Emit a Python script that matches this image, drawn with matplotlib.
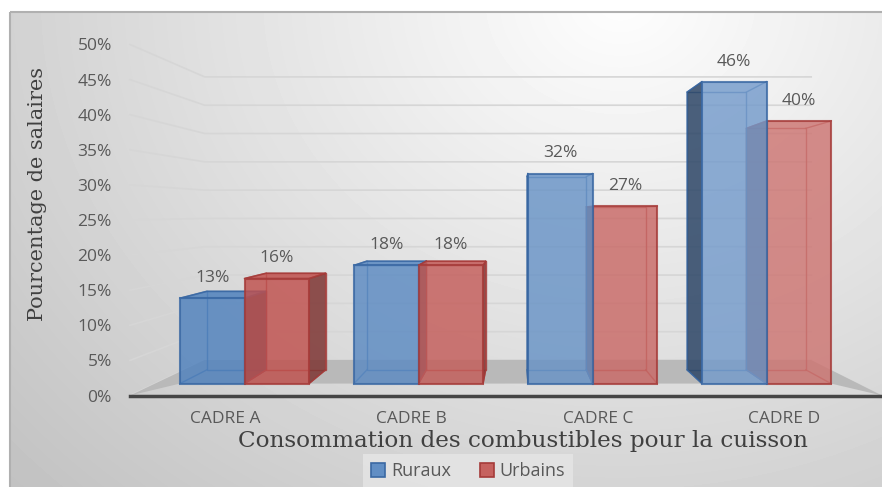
import numpy as np
import matplotlib
matplotlib.use("Agg")
import matplotlib.pyplot as plt
from matplotlib.patches import Polygon, Patch, Rectangle
from matplotlib.colors import to_rgb

# ---- data -------------------------------------------------------------
categories = ["CADRE A", "CADRE B", "CADRE C", "CADRE D"]
series_names = ["Ruraux", "Urbains"]
ruraux = [13, 18, 32, 46]
urbains = [16, 18, 27, 40]
y_ticks = [0, 5, 10, 15, 20, 25, 30, 35, 40, 45, 50]
y_tick_labels = [f"{t}%" for t in y_ticks]

# ---- styling ----------------------------------------------------------
W, H = 882, 487
plt.rcParams["font.family"] = ["Open Sans", "DejaVu Sans"]
BLUE, BLUE_EDGE, BLUE_SIDE = "#4f81bd", "#3a68a3", "#2c4566"
RED, RED_EDGE, RED_SIDE = "#c0504d", "#a53b39", "#7e3533"
GRID = "#d6d6d6"
FLOOR = "#b9b9b9"
TXT = "#595959"
SERIF = ["DejaVu Serif", "Liberation Serif"]

fig = plt.figure(figsize=(W / 100, H / 100), dpi=100)

# background panel with soft radial shading
bg = fig.add_axes([0, 0, 1, 1], zorder=0)
bg.set_xlim(0, W)
bg.set_ylim(H, 0)
bg.axis("off")
yy, xx = np.mgrid[0:H, 0:W]
r = np.sqrt(((xx - 620) / 640.0) ** 2 + (yy / 540.0) ** 2)
shade = np.clip(0.995 - 0.18 * r, 0, 1)
bg.imshow(shade[12:, 10:], cmap="gray", vmin=0, vmax=1,
          extent=(10, W, H, 12), aspect="auto", interpolation="bilinear")
bg.add_patch(Rectangle((10, 12), W, H, fill=False, edgecolor="#b0b0b0", lw=1.5))

# main axes: the front plane of the 3-D box
ax = fig.add_axes([130 / W, (H - 395.5) / H, (W - 130) / W, 351 / H], zorder=1)
ax.set_facecolor("none")
XL, XR = -0.514, 3.527
ax.set_xlim(XL, XR)
ax.set_ylim(0, 50)

# one-point perspective: depth s scales points toward the vanishing point
VP = (1.56, 26.14)
S_FRONT, S_BACK, S_WALL = 0.935, 0.86, 0.8065


def proj(x, v, s):
    return (VP[0] + s * (x - VP[0]), VP[1] + s * (v - VP[1]))


def lighten(c, f):
    c = np.array(to_rgb(c))
    return tuple(c + (1 - c) * f)


# gridlines on side wall and back wall
for t in y_ticks:
    a = proj(XL, t, 1.0)
    b = proj(XL, t, S_WALL)
    c = proj(XR, t, S_WALL)
    ax.plot([a[0], b[0], c[0]], [a[1], b[1], c[1]], color=GRID, lw=1.2,
            zorder=1, clip_on=False)

# bar extents along x
w = 0.371
bars = []
for i, cat in enumerate(categories):
    bars.append((i - w, i, ruraux[i], BLUE, BLUE_EDGE, BLUE_SIDE, i))
    bars.append((i, i + w, urbains[i], RED, RED_EDGE, RED_SIDE, i))

# floor
left_x = min(b[0] for b in bars)
right_x = max(b[1] for b in bars)
floor = [proj(XL, 0, S_WALL), proj(XR, 0, S_WALL), proj(XR, 0, 1.0),
         proj(right_x, 0, S_FRONT), proj(left_x, 0, S_FRONT), proj(XL, 0, 1.0)]
ax.add_patch(Polygon(floor, closed=True, facecolor=FLOOR, edgecolor="none",
                     zorder=2, clip_on=False))

# bars, painted from the outside toward the vanishing point
order = sorted(bars, key=lambda b: -abs((b[0] + b[1]) / 2 - VP[0]))
for x0, x1, v, col, edge, side, idx in order:
    face = lighten(col, 0.07 * idx)
    back = [proj(x0, 0, S_BACK), proj(x1, 0, S_BACK),
            proj(x1, v, S_BACK), proj(x0, v, S_BACK)]
    front = [proj(x0, 0, S_FRONT), proj(x1, 0, S_FRONT),
             proj(x1, v, S_FRONT), proj(x0, v, S_FRONT)]
    ax.add_patch(Polygon(back, closed=True, facecolor="none", edgecolor=edge,
                         lw=1.0, alpha=0.8, zorder=3, clip_on=False))
    for k in range(4):
        ax.plot([front[k][0], back[k][0]], [front[k][1], back[k][1]],
                color=edge, lw=1.0, alpha=0.8, zorder=3, clip_on=False)
    if x1 < VP[0]:
        sx = x1
    elif x0 > VP[0]:
        sx = x0
    else:
        sx = None
    if sx is not None:
        sface = [proj(sx, 0, S_FRONT), proj(sx, 0, S_BACK),
                 proj(sx, v, S_BACK), proj(sx, v, S_FRONT)]
        ax.add_patch(Polygon(sface, closed=True, facecolor=side, alpha=0.85,
                             edgecolor=edge, lw=1.0, zorder=3, clip_on=False))
    if v < VP[1]:
        top = [proj(x0, v, S_FRONT), proj(x1, v, S_FRONT),
               proj(x1, v, S_BACK), proj(x0, v, S_BACK)]
        ax.add_patch(Polygon(top, closed=True, facecolor=face, alpha=0.85,
                             edgecolor=edge, lw=1.2, zorder=3, clip_on=False))
    ax.add_patch(Polygon(front, closed=True, facecolor=face, alpha=0.82,
                         edgecolor=edge, lw=1.5, zorder=4, clip_on=False))
    lx, ly = proj((x0 + x1) / 2, v, S_FRONT)
    ax.annotate(f"{v}%", xy=(lx, ly), xytext=(0, 14.5), textcoords="offset points",
                ha="center", va="center", fontsize=12.5, color=TXT, zorder=6)

# axes decoration
for s in ("top", "left", "right"):
    ax.spines[s].set_visible(False)
ax.spines["bottom"].set_color("#454545")
ax.spines["bottom"].set_linewidth(2.5)
ax.spines["bottom"].set_zorder(5)
ax.set_xticks(range(len(categories)), categories)
ax.set_yticks(y_ticks, y_tick_labels)
ax.tick_params(axis="x", length=0, pad=11, labelsize=12.5, labelcolor=TXT)
ax.tick_params(axis="y", length=0, pad=13, labelsize=12.5, labelcolor=TXT)

fig.text(38 / W, 1 - 194 / H, "Pourcentage de salaires", rotation=90,
         ha="center", va="center", fontsize=15, color="#404040", family=SERIF)
fig.text(523 / W, 1 - 441 / H, "Consommation des combustibles pour la cuisson",
         ha="center", va="center", fontsize=16.7, color="#404040", family=SERIF)

handles = [Patch(facecolor=lighten(BLUE, 0.1), edgecolor=BLUE_EDGE, lw=1.2),
           Patch(facecolor=lighten(RED, 0.1), edgecolor=RED_EDGE, lw=1.2)]
leg = fig.legend(handles, series_names, loc="upper center",
                 bbox_to_anchor=(468 / W, 1 - 454 / H), ncol=2, frameon=True,
                 fancybox=False, facecolor="#e6e6e6", edgecolor="none",
                 framealpha=0.8, fontsize=13, handlelength=0.8, handleheight=0.8,
                 handletextpad=0.3, columnspacing=1.6, borderpad=0.45,
                 borderaxespad=0)
for t in leg.get_texts():
    t.set_color(TXT)

fig.savefig("out.png", dpi=100)
